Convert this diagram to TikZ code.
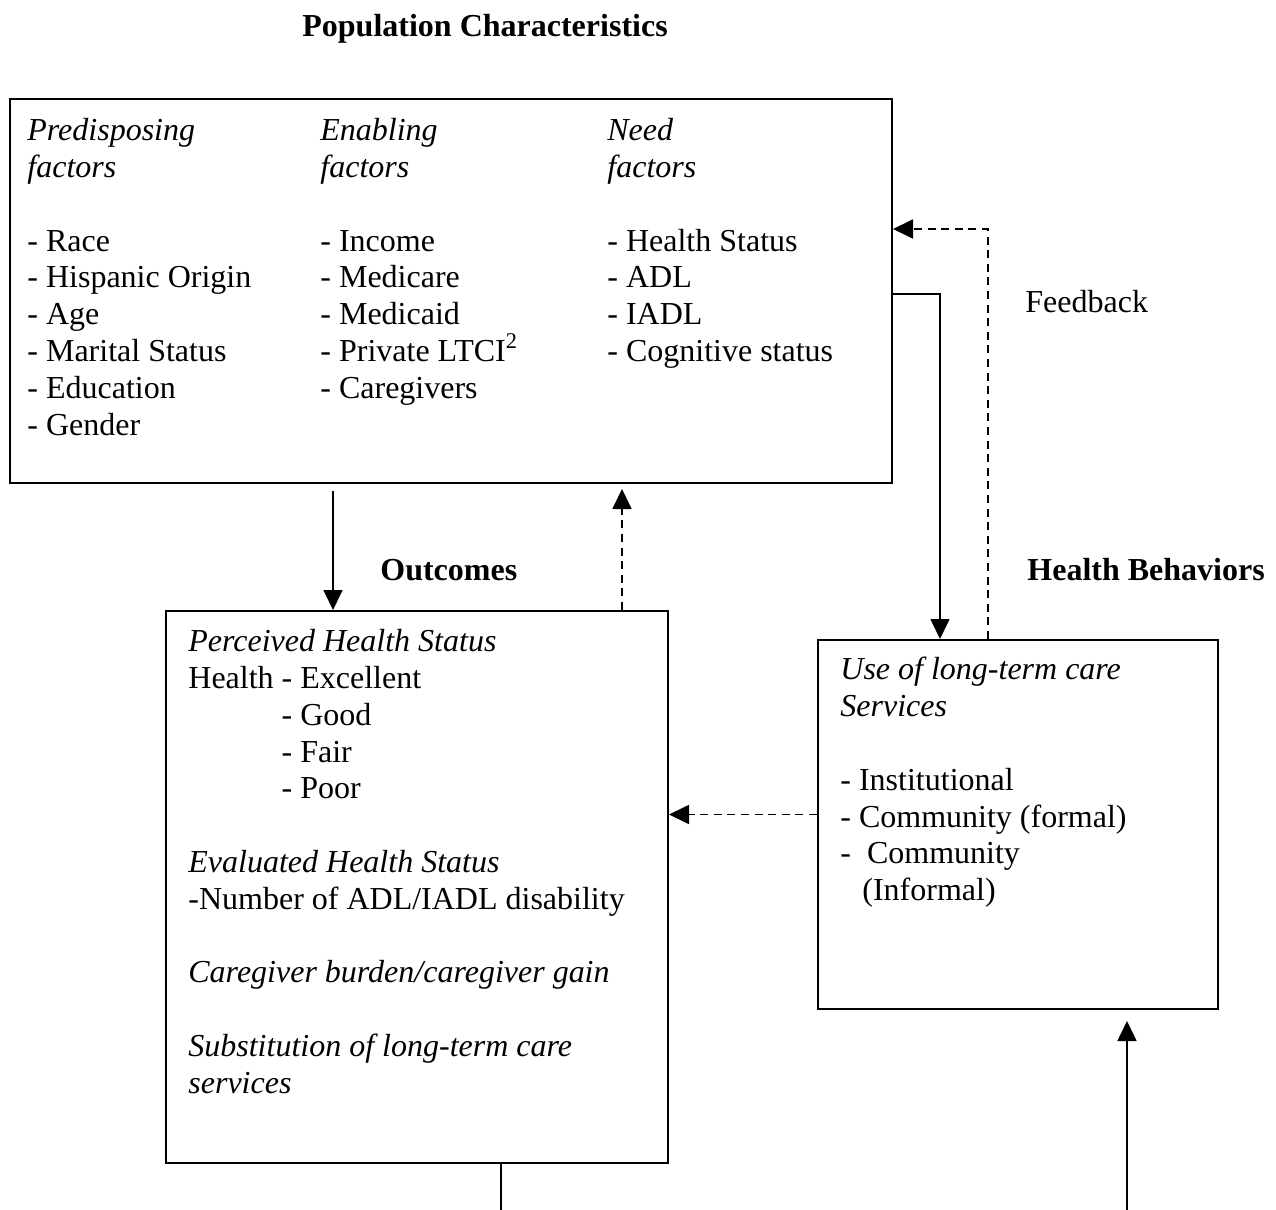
\documentclass[tikz,border=0pt]{standalone}
\usepackage{fontspec}
\setmainfont{Liberation Serif}
\usetikzlibrary{arrows.meta,positioning}
\tikzset{
  ar/.style={-{Triangle[length=10pt,width=9.5pt]},line width=0.8pt},
  dsh/.style={dash pattern=on 4pt off 2.8pt,line width=0.9pt},
  frame/.style={draw,line width=1pt,inner sep=0pt},
  txt/.style={anchor=north west,inner sep=0pt,align=left,font=\fontsize{16}{18.4}\selectfont},
  lbl/.style={anchor=base west,inner sep=0pt,font=\fontsize{16}{18.4}\selectfont},
  hdr/.style={lbl,font=\fontsize{16}{18.4}\selectfont\bfseries}
}

\begin{document}
\begin{tikzpicture}[x=0.5pt,y=-0.5pt]
\useasboundingbox (0,0) rectangle (1276,1210);
\node[frame,minimum width=441pt,minimum height=192pt] (popbox) at (451,291) {};
\node[frame,minimum width=251pt,minimum height=276pt] (outbox) at (417,887) {};
\node[frame,minimum width=200pt,minimum height=184.5pt] (usebox) at (1018,824.5) {};

\node[hdr] (title) at (302,36) {Population Characteristics};
\node[hdr] (outlbl) at (380,580) {Outcomes};
\node[hdr] (behlbl) at (1027,580) {Health Behaviors};
\node[lbl] (fdbk) at (1025,312) {Feedback};

\node[txt] (predis) at (27,118) {\textit{Predisposing}\\ \textit{factors}\\[18.4pt]
  - Race\\ - Hispanic Origin\\ - Age\\ - Marital Status\\ - Education\\ - Gender};
\node[txt] (enabl) at (320,118) {\textit{Enabling}\\ \textit{factors}\\[18.4pt]
  - Income\\ - Medicare\\ - Medicaid\\ - Private LTCI\textsuperscript{2}\\ - Caregivers};
\node[txt] (need) at (607,118) {\textit{Need}\\ \textit{factors}\\[18.4pt]
  - Health Status\\ - ADL\\ - IADL\\ - Cognitive status};
\node[txt] (percv) at (188,629) {\textit{Perceived Health Status}\\ Health - Excellent\\
  \hphantom{Health }- Good\\ \hphantom{Health }- Fair\\ \hphantom{Health }- Poor\\[18.4pt]
  \textit{Evaluated Health Status}\\ -Number of ADL/IADL disability\\[18.4pt]
  \textit{Caregiver burden/caregiver gain}\\[18.4pt]
  \textit{Substitution of long-term care}\\ \textit{services}};
\node[txt] (ltcuse) at (840,657) {\textit{Use of long-term care}\\ \textit{Services}\\[18.4pt]
  - Institutional\\ - Community (formal)\\ -\ \ Community\\ \hspace*{11pt}(Informal)};

\draw[ar,shorten <=3.5pt] ([xshift=-42pt]outbox.north |- popbox.south) -- ([xshift=-42pt]outbox.north);
\draw[ar,dsh,shorten >=2.5pt] ([xshift=102.5pt]outbox.north) -- ([xshift=102.5pt]outbox.north |- popbox.south);
\draw[ar] ([yshift=-1.5pt]popbox.east) -| ([xshift=-39pt]usebox.north);
\draw[ar,dsh] ([xshift=-15pt]usebox.north) |- ([yshift=31pt]popbox.east);
\draw[ar,dsh] ([yshift=5pt]usebox.west) -- ([yshift=5pt]usebox.west -| outbox.east);
\coordinate (outend) at (501,1210);
\draw[line width=0.8pt] (outbox.south -| outend) -- (outend);
\coordinate (usein) at (1127,1210);
\draw[ar,shorten >=5.5pt] (usein) -- (usein |- usebox.south);
\end{tikzpicture}
\end{document}
